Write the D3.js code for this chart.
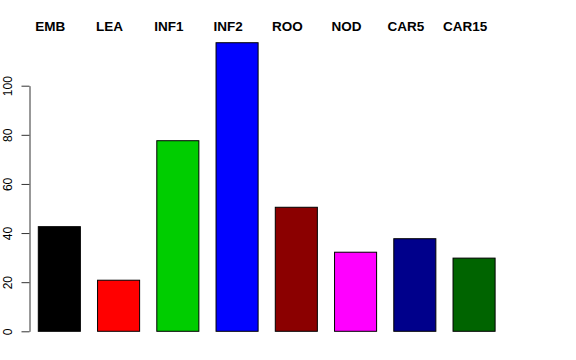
<!DOCTYPE html>
<html><head><meta charset="utf-8">
<script src="https://cdn.jsdelivr.net/npm/d3@7"></script>
<style>body{margin:0;background:#fff}svg{display:block}</style>
</head><body>
<script>
const categories = ["EMB","LEA","INF1","INF2","ROO","NOD","CAR5","CAR15"];
const values = [42.6, 20.8, 77.6, 117.5, 50.5, 32.2, 37.7, 29.8];
const colors = ["#000000","#FF0000","#00CD00","#0000FF","#8B0000","#FF00FF","#00008B","#006400"];
const yTicks = [0, 20, 40, 60, 80, 100];

const W = 576, H = 360;
const svg = d3.select("body").append("svg").attr("width", W).attr("height", H);

const x = d3.scaleBand().domain(categories).range([38.3, 495.1]).paddingInner(0.29).paddingOuter(0);
const y = d3.scaleLinear().domain([0, 100]).range([331.3, 85.7]);

svg.selectAll("rect.bar").data(categories).enter().append("rect")
  .attr("class","bar")
  .attr("x", d => x(d))
  .attr("width", x.bandwidth())
  .attr("y", (d,i) => y(values[i]))
  .attr("height", (d,i) => y(0) - y(values[i]))
  .attr("fill", (d,i) => colors[i])
  .attr("stroke", "#000").attr("stroke-width", 1);

const yAxis = d3.axisLeft(y).tickValues(yTicks).tickSize(8).tickSizeOuter(0).tickPadding(9);
const ag = svg.append("g").attr("transform", "translate(29.5,0)").call(yAxis);
ag.select(".domain").attr("stroke", "#333");
ag.selectAll(".tick line").attr("stroke", "#333");
ag.selectAll(".tick text")
  .attr("font-family", "Liberation Sans, Arial, sans-serif")
  .attr("font-size", 12).attr("fill", "#000")
  .attr("text-anchor", "middle")
  .attr("transform", "rotate(-90)")
  .attr("x", 0).attr("y", -17.5).attr("dy", "0");

svg.selectAll("text.cat").data(categories).enter().append("text")
  .attr("class","cat")
  .attr("x", d => x(d) + x.bandwidth()/2 - 9)
  .attr("y", 31)
  .attr("text-anchor", "middle")
  .attr("font-family", "Liberation Sans, Arial, sans-serif")
  .attr("font-weight", "bold")
  .attr("font-size", 13.5)
  .text(d => d);
</script>
</body></html>
